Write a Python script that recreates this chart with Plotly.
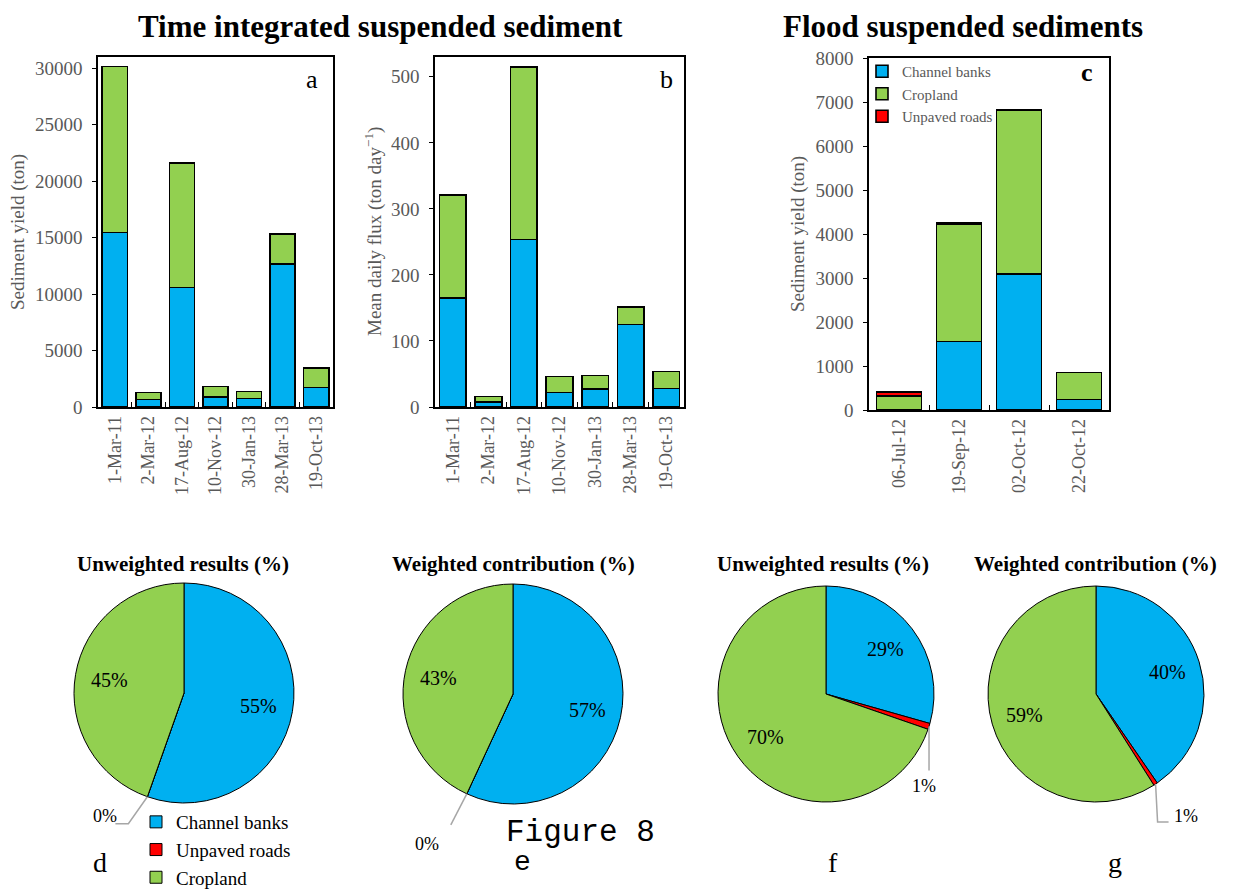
import math
import plotly.graph_objects as go

# The page body keeps the browser's default 8px margin, so the figure is drawn
# 8px in from the top-left corner of the window.
OFF = 8
FW, FH = 1256 - OFF, 890 - OFF

# ---------------- data ----------------
a_dates = ["1-Mar-11", "2-Mar-12", "17-Aug-12", "10-Nov-12", "30-Jan-13", "28-Mar-13", "19-Oct-13"]
a_channel = [15450, 650, 10600, 860, 770, 12680, 1740]
a_cropland = [14700, 650, 11000, 970, 590, 2660, 1710]

b_dates = ["1-Mar-11", "2-Mar-12", "17-Aug-12", "10-Nov-12", "30-Jan-13", "28-Mar-13", "19-Oct-13"]
b_channel = [165, 7.6, 253.5, 22, 27, 125, 27.8]
b_cropland = [156, 8.4, 261.5, 24, 21, 26, 25.7]

c_dates = ["06-Jul-12", "19-Sep-12", "02-Oct-12", "22-Oct-12"]
c_channel = [10, 1555, 3090, 243]
c_cropland = [310, 2675, 3730, 607]
c_roads = [95, 20, None, None]

pie_labels = ["Channel banks", "Unpaved roads", "Cropland"]
pie_d = [55.4, 0.0, 44.6]
pie_e = [56.9, 0.0, 43.1]
pie_f = [29.4, 0.9, 69.7]
pie_g = [40.4, 0.6, 59.0]

# ---------------- style ----------------
COL = {"Channel banks": "#00B0F0", "Cropland": "#92D050", "Unpaved roads": "#FF0000"}
SERIF = "Liberation Serif"
MONO = "Liberation Mono"
GRAY = "#595959"


def fx(p):
    return (p - OFF) / FW


def fy(p):
    return 1 - (p - OFF) / FH


fig = go.Figure()


def add_bars(xa, ya, dates, series, showlegend):
    for name, vals in series:
        fig.add_trace(go.Bar(
            x=dates, y=vals, name=name, xaxis=xa, yaxis=ya,
            marker=dict(color=COL[name], line=dict(color="black", width=1.6)),
            showlegend=showlegend, legend="legend", legendgroup=name,
        ))


add_bars("x", "y", a_dates, [("Channel banks", a_channel), ("Cropland", a_cropland)], False)
add_bars("x2", "y2", b_dates, [("Channel banks", b_channel), ("Cropland", b_cropland)], False)
add_bars("x3", "y3", c_dates, [("Channel banks", c_channel), ("Cropland", c_cropland),
                               ("Unpaved roads", c_roads)], True)

# axes geometry (pixels in the window)
bar_panels = [
    # (suffix, x0, x1, ytop, ybottom, yrange, dtick)
    ("", 98, 333, 57, 407, [0, 31000], 5000),
    ("2", 435, 684, 57, 407, [0, 530], 100),
    ("3", 869, 1109, 58, 410, [0, 8000], 1000),
]
axis_layout = {}
for suf, x0, x1, yt, yb, yr, dt in bar_panels:
    axis_layout["xaxis" + suf] = dict(
        domain=[fx(x0), fx(x1)], anchor="y" + suf, type="category",
        showline=True, linecolor="black", linewidth=1.6, mirror=True,
        ticks="inside", tickson="boundaries", ticklen=5, tickcolor="black",
        tickangle=-90, tickfont=dict(family=SERIF, size=18, color=GRAY),
        showgrid=False, zeroline=False,
    )
    axis_layout["yaxis" + suf] = dict(
        domain=[fy(yb), fy(yt)], anchor="x" + suf, range=yr, dtick=dt,
        showline=True, linecolor="black", linewidth=1.6, mirror=True,
        ticks="outside", ticklen=4, tickcolor="black", ticklabelstandoff=6,
        tickfont=dict(family=SERIF, size=19, color=GRAY),
        exponentformat="none", separatethousands=False, tickformat="d",
        showgrid=False, zeroline=False,
    )

# ---------------- pies ----------------
pies = [
    # values, cx, cy, r, title, title_x, letter, letter_x, letter_font, leader pts (rel), label (rel)
    (pie_d, 184, 693, 110, "Unweighted results (%)", 183, "d", 100, SERIF,
     [(0, 0), (-19, 27), (-32, 27)], (-42, 19)),
    (pie_e, 513, 694, 110, "Weighted contribution (%)", 513, "e", 522, MONO,
     [(0, 0), (-16, 31)], (-40, 50)),
    (pie_f, 826, 694, 108, "Unweighted results (%)", 823, "f", 833, SERIF,
     [(0, 0), (0, 44)], (-5, 60)),
    (pie_g, 1096, 694, 108, "Weighted contribution (%)", 1095, "g", 1115, SERIF,
     [(0, 0), (2, 38), (13, 38)], (30, 32)),
]

annotations = []
shapes = []

for vals, cx, cy, r, title, tx, letter, lx, lfont, leader, lab in pies:
    fig.add_trace(go.Pie(
        labels=pie_labels, values=vals, sort=False, direction="clockwise", rotation=0,
        marker=dict(colors=[COL[l] for l in pie_labels], line=dict(color="black", width=1)),
        textinfo="none", hoverinfo="label+percent",
        domain=dict(x=[fx(cx - r), fx(cx + r)], y=[fy(cy + r), fy(cy - r)]),
        legend="legend2", showlegend=True,
    ))
    total = sum(vals)
    cum = 0.0
    for v in vals:
        a0 = cum / total * 360
        cum += v
        a1 = cum / total * 360
        mid = math.radians((a0 + a1) / 2)
        txt = f"{round(v)}%"
        if v / total >= 0.03:
            d = 0.69 * r
            px_ = cx + d * math.sin(mid)
            py_ = cy - d * math.cos(mid)
            annotations.append(dict(x=fx(px_), y=fy(py_), text=txt,
                                    font=dict(family=SERIF, size=20, color="black")))
        else:
            sx = cx + r * math.sin(mid)
            sy = cy - r * math.cos(mid)
            path = "M " + " L ".join(f"{fx(sx + ox)},{fy(sy + oy)}" for ox, oy in leader)
            shapes.append(dict(type="path", path=path, xref="paper", yref="paper",
                               line=dict(color="#A6A6A6", width=1.5)))
            annotations.append(dict(x=fx(sx + lab[0]), y=fy(sy + lab[1]), text=txt,
                                    font=dict(family=SERIF, size=18, color="black")))
    annotations.append(dict(x=fx(tx), y=fy(564), text=f"<b>{title}</b>",
                            font=dict(family=SERIF, size=21, color="black")))
    annotations.append(dict(x=fx(lx), y=fy(862), text=letter,
                            font=dict(family=lfont, size=28, color="black")))

# ---------------- text ----------------
annotations += [
    dict(x=fx(380), y=fy(OFF), yanchor="top", borderpad=0,
         text="<b>Time integrated suspended sediment</b>",
         font=dict(family=SERIF, size=31, color="black")),
    dict(x=fx(963), y=fy(OFF), yanchor="top", borderpad=0,
         text="<b>Flood suspended sediments</b>",
         font=dict(family=SERIF, size=31, color="black")),
    dict(x=fx(312), y=fy(80), text="a", font=dict(family=SERIF, size=26, color="black")),
    dict(x=fx(666), y=fy(80), text="b", font=dict(family=SERIF, size=26, color="black")),
    dict(x=fx(1087), y=fy(72), text="<b>c</b>", font=dict(family=SERIF, size=26, color="black")),
    dict(x=fx(18), y=fy(232), text="Sediment yield (ton)", textangle=-90,
         font=dict(family=SERIF, size=19, color=GRAY)),
    dict(x=fx(373), y=fy(232), text="Mean daily flux (ton day<sup>−1</sup>)", textangle=-90,
         font=dict(family=SERIF, size=19, color=GRAY)),
    dict(x=fx(798), y=fy(234), text="Sediment yield (ton)", textangle=-90,
         font=dict(family=SERIF, size=19, color=GRAY)),
    dict(x=fx(580), y=fy(832), text="Figure 8", font=dict(family=MONO, size=31, color="black")),
]
for an in annotations:
    an.setdefault("xref", "paper")
    an.setdefault("yref", "paper")
    an.setdefault("showarrow", False)
    an.setdefault("xanchor", "center")
    an.setdefault("yanchor", "middle")

fig.update_layout(
    width=FW, height=FH, margin=dict(l=0, r=0, t=0, b=0, autoexpand=False),
    template="none", paper_bgcolor="white", plot_bgcolor="white",
    barmode="stack", bargap=0.25,
    annotations=annotations, shapes=shapes,
    legend=dict(x=fx(862), y=fy(55), xanchor="left", yanchor="top", traceorder="normal",
                font=dict(family=SERIF, size=15, color=GRAY), bgcolor="rgba(0,0,0,0)",
                tracegroupgap=0),
    legend2=dict(x=fx(136), y=fy(897), xanchor="left", yanchor="bottom", traceorder="normal",
                 font=dict(family=SERIF, size=19, color="black"), bgcolor="rgba(0,0,0,0)",
                 tracegroupgap=0),
    **axis_layout,
)

fig.write_html("out.html")
